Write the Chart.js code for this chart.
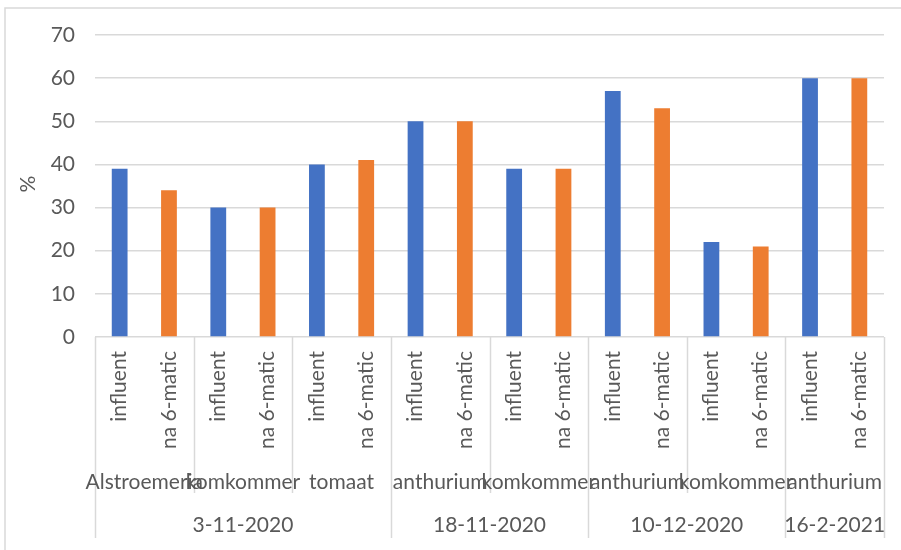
<!DOCTYPE html>
<html>
<head>
<meta charset="utf-8">
<script src="https://cdn.jsdelivr.net/npm/chart.js@4"></script>
<style>
  html, body { margin: 0; padding: 0; background: #fff; }
  #wrap { width: 901px; height: 550px; position: relative; }
</style>
</head>
<body>
<div id="wrap"><canvas id="chart" width="901" height="550"></canvas></div>
<script>
// Chart data
const measures = ['influent', 'na 6-matic'];
const crops = ['Alstroemeria', 'komkommer', 'tomaat', 'anthurium', 'komkommer', 'anthurium', 'komkommer', 'anthurium'];
const dates = ['3-11-2020', '18-11-2020', '10-12-2020', '16-2-2021'];
const cropsPerDate = [3, 2, 2, 1];
const influentValues = [39, 30, 40, 50, 39, 57, 22, 60];
const naMaticValues = [34, 30, 41, 50, 39, 53, 21, 60];
const yTicks = [0, 10, 20, 30, 40, 50, 60, 70];

const FONT = 'Lato, "Liberation Sans", sans-serif';
const TEXT = '#595959';
const LINE = '#d9d9d9';

// One slot per measure per crop
const labels = [];
crops.forEach((c, i) => measures.forEach(m => labels.push(c + ' ' + m + ' ' + i)));
const influentData = [];
const naMaticData = [];
crops.forEach((c, i) => {
    influentData.push(influentValues[i], null);
    naMaticData.push(null, naMaticValues[i]);
});

// Multi-level category axis + frame
const axisPlugin = {
    id: 'multiAxis',
    afterDraw(chart) {
        const ctx = chart.ctx;
        const x = chart.scales.x;
        const area = chart.chartArea;
        const n = labels.length;
        const edge = (i) => {
            if (i <= 0) return area.left;
            if (i >= n) return area.right;
            return (x.getPixelForValue(i - 1) + x.getPixelForValue(i)) / 2;
        };
        ctx.save();

        // outer frame
        ctx.strokeStyle = LINE;
        ctx.lineWidth = 1.5;
        ctx.strokeRect(5, 8, 1000, 1000);

        // separators
        const dateEdges = [0];
        cropsPerDate.forEach(k => dateEdges.push(dateEdges[dateEdges.length - 1] + k));
        ctx.beginPath();
        for (let p = 0; p <= crops.length; p++) {
            const px = Math.round(edge(p * 2)) + 0.5;
            const long = dateEdges.includes(p);
            ctx.moveTo(px, area.bottom);
            ctx.lineTo(px, long ? 538 : 493);
        }
        ctx.stroke();

        ctx.fillStyle = TEXT;
        ctx.font = '21px ' + FONT;

        // level 1: rotated measure labels
        for (let i = 0; i < n; i++) {
            const cx = x.getPixelForValue(i);
            ctx.save();
            ctx.translate(cx, 351);
            ctx.rotate(-Math.PI / 2);
            ctx.textAlign = 'right';
            ctx.textBaseline = 'middle';
            ctx.fillText(measures[i % 2], 0, 0);
            ctx.restore();
        }

        // level 2: crops
        ctx.textAlign = 'center';
        ctx.textBaseline = 'middle';
        crops.forEach((c, p) => {
            const cx = (edge(p * 2) + edge(p * 2 + 2)) / 2;
            ctx.fillText(c, cx, 482);
        });

        // level 3: dates
        dates.forEach((d, k) => {
            const cx = (edge(dateEdges[k] * 2) + edge(dateEdges[k + 1] * 2)) / 2;
            ctx.fillText(d, cx, 525);
        });

        // y axis title
        ctx.save();
        ctx.translate(28, 184);
        ctx.rotate(-Math.PI / 2);
        ctx.fillText('%', 0, 0);
        ctx.restore();

        ctx.restore();
    }
};

new Chart(document.getElementById('chart'), {
    type: 'bar',
    data: {
        labels: labels,
        datasets: [{
            label: measures[0],
            data: influentData,
            backgroundColor: '#4472C4',
            borderWidth: 0
        }, {
            label: measures[1],
            data: naMaticData,
            backgroundColor: '#ED7D31',
            borderWidth: 0
        }]
    },
    options: {
        responsive: false,
        animation: false,
        skipNull: true,
        categoryPercentage: 0.8,
        barPercentage: 0.4,
        layout: { padding: { top: 35, right: 17, left: 0, bottom: 0 } },
        plugins: {
            legend: { display: false },
            tooltip: { enabled: false }
        },
        scales: {
            x: {
                ticks: { display: false },
                grid: { display: false },
                border: { display: false },
                afterFit(s) { s.height = 213; }
            },
            y: {
                min: yTicks[0],
                max: yTicks[yTicks.length - 1],
                afterBuildTicks(s) { s.ticks = yTicks.map(v => ({ value: v })); },
                ticks: {
                    padding: 20,
                    color: TEXT,
                    font: { family: FONT, size: 21 }
                },
                grid: { color: LINE, lineWidth: 1.5, drawTicks: false },
                border: { display: false },
                afterFit(s) { s.width = 95; }
            }
        }
    },
    plugins: [axisPlugin]
});
</script>
</body>
</html>
